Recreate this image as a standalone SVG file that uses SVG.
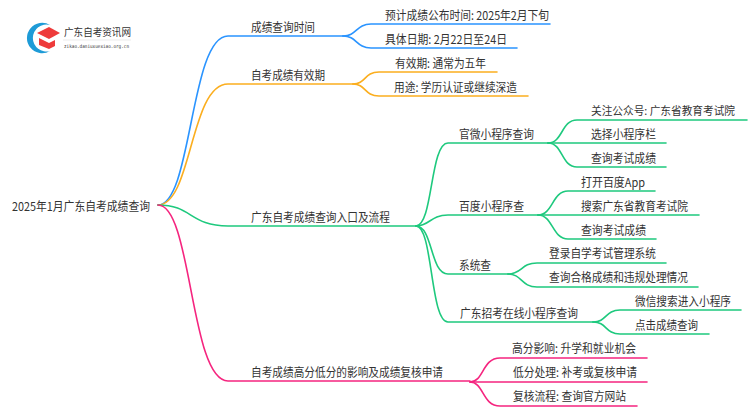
<svg xmlns="http://www.w3.org/2000/svg" width="750" height="410" viewBox="0 0 750 410">
<style>
text{font-family:"Noto Sans CJK SC","Liberation Sans",sans-serif;font-size:12px;fill:#333}
path.c{fill:none;stroke-width:1.6;stroke-linecap:round}
.b{stroke:#2a94ff}.o{stroke:#fbae1f}.g{stroke:#1ec97e}.p{stroke:#f5257f}
</style>
<rect width="750" height="410" fill="#fff"/>
<g id="connectors">
<path class="c b" d="M158 205C192 205 190 36 228 36H343"/>
<path class="c b" d="M343 36C357 36 356 24 371 24H550"/>
<path class="c b" d="M343 36C357 36 356 48 371 48H517"/>
<path class="c o" d="M158 205C192 205 190 84 228 84H353"/>
<path class="c o" d="M353 84C366 84 364 72 379 72H497"/>
<path class="c o" d="M353 84C366 84 364 96 379 96H528"/>
<path class="c g" d="M158 205C192 205 190 226 228 226H416"/>
<path class="c g" d="M416 226C433 226 430 143 448 143H548"/>
<path class="c g" d="M416 226C430 226 430 215 448 215H538"/>
<path class="c g" d="M416 226C433 226 430 274 448 274H508"/>
<path class="c g" d="M416 226C433 226 430 322 448 322H593"/>
<path class="c g" d="M548 143C563 143 561 120 577 120H747"/>
<path class="c g" d="M548 143H666"/>
<path class="c g" d="M548 143C563 143 561 167 577 167H666"/>
<path class="c g" d="M538 215C553 215 552 191 568 191H655"/>
<path class="c g" d="M538 215H699"/>
<path class="c g" d="M538 215C553 215 552 239 568 239H656"/>
<path class="c g" d="M508 274C522 274 521 263 537 263H666"/>
<path class="c g" d="M508 274C522 274 521 287 537 287H698"/>
<path class="c g" d="M593 322C607 322 605 310 620 310H741"/>
<path class="c g" d="M593 322C607 322 605 334 620 334H709"/>
<path class="c p" d="M158 205C192 205 190 381 228 381H470"/>
<path class="c p" d="M470 382C484 382 482 358 500 358H647"/>
<path class="c p" d="M470 382H647"/>
<path class="c p" d="M470 382C484 382 482 406 500 406H637"/>
</g>
<g id="logo">
<path d="M50 25A15.2 15.2 0 1 0 50 51A13.5 13.5 0 1 1 50 25Z" fill="#1e9bd7"/>
<path d="M49 27L60 33L49 39L37 33Z" fill="#ee3b3b"/>
<path d="M39 38L49 43L55 40V46L49 49L39 45Z" fill="#ee3b3b"/>
<text x="64" y="35.5" textLength="67" lengthAdjust="spacingAndGlyphs" style="font-size:10px">广东自考资讯网</text>
<path d="M63 40H131" stroke="#ddd" stroke-width=".6"/>
<text x="64" y="48" textLength="65" lengthAdjust="spacingAndGlyphs" style="font-size:5px;font-family:'DejaVu Sans Mono',monospace">zikao.daniuxuexiao.org.cn</text>
</g>
<g id="root"><text x="12" y="211" textLength="138" lengthAdjust="spacingAndGlyphs">2025年1月广东自考成绩查询</text></g>
<g id="n1"><text x="251" y="32" textLength="64" lengthAdjust="spacingAndGlyphs">成绩查询时间</text></g>
<g id="n2"><text x="385" y="20" textLength="164" lengthAdjust="spacingAndGlyphs">预计成绩公布时间: 2025年2月下旬</text></g>
<g id="n3"><text x="385" y="44" textLength="122" lengthAdjust="spacingAndGlyphs">具体日期: 2月22日至24日</text></g>
<g id="n4"><text x="251" y="80" textLength="74" lengthAdjust="spacingAndGlyphs">自考成绩有效期</text></g>
<g id="n5"><text x="395" y="68" textLength="91" lengthAdjust="spacingAndGlyphs">有效期: 通常为五年</text></g>
<g id="n6"><text x="394" y="92" textLength="123" lengthAdjust="spacingAndGlyphs">用途: 学历认证或继续深造</text></g>
<g id="n7"><text x="251" y="222" textLength="139" lengthAdjust="spacingAndGlyphs">广东自考成绩查询入口及流程</text></g>
<g id="n8"><text x="459" y="139" textLength="75" lengthAdjust="spacingAndGlyphs">官微小程序查询</text></g>
<g id="n9"><text x="591" y="115" textLength="144" lengthAdjust="spacingAndGlyphs" style="font-size:11.3px">关注公众号: 广东省教育考试院</text></g>
<g id="n10"><text x="591" y="139" textLength="65" lengthAdjust="spacingAndGlyphs">选择小程序栏</text></g>
<g id="n11"><text x="591" y="163" textLength="65" lengthAdjust="spacingAndGlyphs">查询考试成绩</text></g>
<g id="n12"><text x="459" y="211" textLength="65" lengthAdjust="spacingAndGlyphs">百度小程序查</text></g>
<g id="n13"><text x="581" y="187" textLength="64" lengthAdjust="spacingAndGlyphs">打开百度App</text></g>
<g id="n14"><text x="581" y="211" textLength="107" lengthAdjust="spacingAndGlyphs">搜索广东省教育考试院</text></g>
<g id="n15"><text x="581" y="235" textLength="65" lengthAdjust="spacingAndGlyphs">查询考试成绩</text></g>
<g id="n16"><text x="459" y="270" textLength="32" lengthAdjust="spacingAndGlyphs">系统查</text></g>
<g id="n17"><text x="549" y="258" textLength="107" lengthAdjust="spacingAndGlyphs">登录自学考试管理系统</text></g>
<g id="n18"><text x="549" y="282" textLength="139" lengthAdjust="spacingAndGlyphs">查询合格成绩和违规处理情况</text></g>
<g id="n19"><text x="460" y="318" textLength="118" lengthAdjust="spacingAndGlyphs">广东招考在线小程序查询</text></g>
<g id="n20"><text x="635" y="306" textLength="96" lengthAdjust="spacingAndGlyphs">微信搜索进入小程序</text></g>
<g id="n21"><text x="635" y="330" textLength="63" lengthAdjust="spacingAndGlyphs">点击成绩查询</text></g>
<g id="n22"><text x="251" y="377" textLength="192" lengthAdjust="spacingAndGlyphs">自考成绩高分低分的影响及成绩复核申请</text></g>
<g id="n23"><text x="512" y="353" textLength="124" lengthAdjust="spacingAndGlyphs">高分影响: 升学和就业机会</text></g>
<g id="n24"><text x="513" y="377" textLength="124" lengthAdjust="spacingAndGlyphs">低分处理: 补考或复核申请</text></g>
<g id="n25"><text x="513" y="401" textLength="113" lengthAdjust="spacingAndGlyphs">复核流程: 查询官方网站</text></g>
</svg>
